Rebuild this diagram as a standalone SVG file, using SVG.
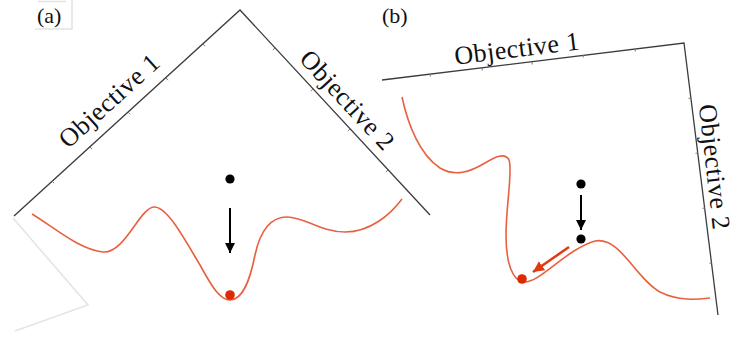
<svg xmlns="http://www.w3.org/2000/svg" width="738" height="337" viewBox="0 0 738 337">
  <style>
    .axis { fill: none; stroke: #3c3c3c; stroke-width: 1.3; }
    .tick { fill: none; stroke: #777; stroke-width: 1; }
    .ghost { fill: none; stroke: #e4e4e4; stroke-width: 1.5; }
    .curve { fill: none; stroke: #e8603f; stroke-width: 1.6; }
    .lbl { font-family: "Liberation Serif", "Times New Roman", serif; font-size: 26px; fill: #111; letter-spacing: 0.5px; }
    .plbl { font-family: "Liberation Serif", "Times New Roman", serif; font-size: 22px; fill: #111; }
    .arrow { stroke: #000; stroke-width: 2; fill: none; }
    .arrow-red { stroke: #e03a12; stroke-width: 2.5; fill: none; }
  </style>
  <defs>
    <marker id="headBlack" viewBox="0 0 10 10" refX="10" refY="5" markerWidth="10" markerHeight="10" markerUnits="userSpaceOnUse" orient="auto">
      <path d="M0,0 L10,5 L0,10 z" fill="#000"/>
    </marker>
    <marker id="headRed" viewBox="0 0 10 10" refX="10" refY="5" markerWidth="11" markerHeight="11" markerUnits="userSpaceOnUse" orient="auto">
      <path d="M0,0 L10,5 L0,10 z" fill="#e03a12"/>
    </marker>
  </defs>
  <rect width="738" height="337" fill="#fff"/>

  <!-- Panel (a) -->
  <g id="panel-a-label">
    <path class="ghost" d="M38,1.5 H66 M72,0 V29 M35,29 H73" stroke-width="1.2"/>
    <text class="plbl" x="37" y="23">(a)</text>
  </g>
  <g id="panel-a-axes">
    <path class="ghost" d="M13,218 L88,305 L15,331"/>
    <path class="axis" d="M14,216 L240,10 L430,215"/>
    <path class="tick" d="M203,44 l2,2.2 M166,78 l2,2.2 M128,112 l2,2.2 M90,147 l2,2.2 M52,181 l2,2.2"/>
    <path class="tick" d="M275,48 l-2.2,2 M313,89 l-2.2,2 M350,129 l-2.2,2 M388,170 l-2.2,2"/>
  </g>
  <g id="a-objective1">
    <text class="lbl" text-anchor="middle" transform="translate(115,107) rotate(-42.2)">Objective 1</text>
  </g>
  <g id="a-objective2">
    <text class="lbl" text-anchor="middle" transform="translate(341,106) rotate(47.2)">Objective 2</text>
  </g>
  <g id="a-curve">
    <path class="curve" d="M32,214 C55,228 80,250 103,252 C125,254 140,206 155,207 C168,208 185,240 200,265 C212,287 220,300 230,300 C243,300 250,280 255,255 C260,232 270,217 287,217 C305,217 320,232 345,232 C370,232 390,215 402,199"/>
  </g>
  <g id="a-start">
    <circle cx="230" cy="179" r="4.6" fill="#000"/>
  </g>
  <g id="a-end">
    <circle cx="230" cy="295" r="4.8" fill="#dd2a00"/>
  </g>

  <!-- Panel (b) -->
  <g id="panel-b-label">
    <text class="plbl" x="382" y="23">(b)</text>
  </g>
  <g id="panel-b-axes">
    <path class="axis" d="M382,80 L684,43 L718,315"/>
    <path class="tick" d="M430,74 l0.3,2.5 M482,68 l0.3,2.5 M532,62 l0.3,2.5 M583,55 l0.3,2.5 M635,49 l0.3,2.5"/>
    <path class="tick" d="M691,98 l-2.5,0.3 M698,153 l-2.5,0.3 M705,208 l-2.5,0.3 M712,263 l-2.5,0.3"/>
  </g>
  <g id="b-objective1">
    <text class="lbl" text-anchor="middle" transform="translate(518,57) rotate(-7)">Objective 1</text>
  </g>
  <g id="b-objective2">
    <text class="lbl" text-anchor="middle" font-size="24" transform="translate(706,168) rotate(83.5)">Objective 2</text>
  </g>
  <g id="b-curve">
    <path class="curve" d="M402,97 C408,125 420,155 440,168 C455,177 470,172 485,163 C495,157 505,152 509,160 C513,170 506,205 506,235 C506,262 512,281 524,282 C540,283 565,250 595,241 C620,236 635,278 660,292 C680,302 700,299 710,298"/>
  </g>
  <g id="b-start">
    <circle cx="581" cy="184" r="4.6" fill="#000"/>
  </g>
  <g id="b-mid">
    <circle cx="581" cy="239" r="4.6" fill="#000"/>
  </g>
  <g id="b-end">
    <circle cx="522" cy="279" r="4.8" fill="#dd2a00"/>
  </g>

  <!-- Connectors -->
  <g id="connectors">
    <line class="arrow" x1="230" y1="208" x2="230" y2="253" marker-end="url(#headBlack)"/>
    <line class="arrow" x1="581" y1="195" x2="581" y2="230" marker-end="url(#headBlack)"/>
    <line class="arrow-red" x1="569" y1="247" x2="533" y2="272" marker-end="url(#headRed)"/>
  </g>
</svg>
